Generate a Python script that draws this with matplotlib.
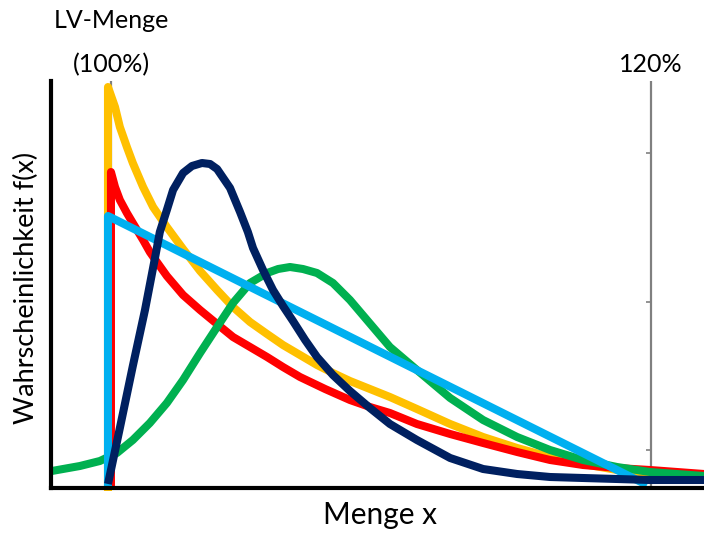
import matplotlib.pyplot as plt

# x: Menge in % der LV-Menge, y: Wahrscheinlichkeit f(x) (beliebige Einheit)
yellow_x = [99.89, 99.89, 100.15, 100.33, 100.59, 100.81, 101.19, 101.56, 102.07, 102.67, 103.30,
            103.93, 104.52, 105.15, 105.78, 106.37, 107.00, 107.63, 108.22, 108.85, 109.59, 110.33,
            111.33, 112.56, 113.78, 115.04, 116.26, 117.48, 118.74, 119.96, 121.96]
yellow_y = [-0.03, 4.01, 3.81, 3.61, 3.41, 3.25, 3.01, 2.81, 2.61, 2.39, 2.17,
            1.98, 1.81, 1.66, 1.54, 1.43, 1.33, 1.23, 1.15, 1.07, 0.99, 0.91,
            0.79, 0.64, 0.51, 0.40, 0.31, 0.24, 0.18, 0.15, 0.11]

red_x = [100.0, 100.0, 100.15, 100.33, 100.59, 100.81, 101.19, 101.44, 101.70, 102.07, 102.67,
         103.30, 103.93, 104.52, 105.15, 105.78, 106.37, 107.00, 107.93, 108.85, 109.59, 110.33,
         111.33, 112.56, 113.78, 115.04, 116.26, 117.48, 118.74, 119.96, 121.96]
red_y = [0.0, 3.16, 3.01, 2.88, 2.75, 2.65, 2.48, 2.36, 2.26, 2.12, 1.93,
         1.78, 1.64, 1.51, 1.41, 1.31, 1.21, 1.11, 0.99, 0.88, 0.81, 0.75,
         0.64, 0.54, 0.45, 0.36, 0.28, 0.23, 0.20, 0.18, 0.14]

green_x = [97.81, 98.85, 99.59, 100.22, 100.81, 101.44, 102.07, 102.67, 103.30, 103.93, 104.52,
           105.15, 105.78, 106.19, 106.63, 107.11, 107.63, 108.22, 108.85, 109.70, 110.33, 111.33,
           112.56, 113.78, 115.04, 116.26, 117.48, 118.74, 119.96, 121.96]
green_y = [0.17, 0.22, 0.27, 0.35, 0.48, 0.65, 0.85, 1.08, 1.35, 1.61, 1.85,
           2.05, 2.15, 2.19, 2.21, 2.19, 2.15, 2.05, 1.88, 1.61, 1.41, 1.18,
           0.90, 0.68, 0.51, 0.38, 0.28, 0.21, 0.16, 0.12]

blue_x = [99.89, 99.89, 119.85]
blue_y = [0.02, 2.72, 0.03]

navy_x = [99.89, 100.33, 100.81, 101.26, 101.63, 101.81, 102.07, 102.30, 102.67, 103.00, 103.37,
          103.67, 103.93, 104.41, 104.78, 105.07, 105.26, 105.63, 106.00, 106.37, 106.74, 107.19,
          107.63, 108.22, 108.85, 109.59, 110.33, 111.33, 112.56, 113.78, 115.04, 116.26, 117.48,
          118.74, 119.96, 121.96]
navy_y = [0.04, 0.60, 1.22, 1.78, 2.30, 2.56, 2.78, 2.98, 3.15, 3.22, 3.25,
          3.24, 3.19, 3.00, 2.76, 2.56, 2.40, 2.18, 1.98, 1.82, 1.67, 1.48,
          1.31, 1.13, 0.97, 0.80, 0.64, 0.48, 0.30, 0.19, 0.14, 0.11, 0.10,
          0.09, 0.08, 0.08]

ref_lines = [100, 120]
ref_labels = ["(100%)", "120%"]
ref_ticks = [0.38, 1.86, 3.35]

plt.rcParams['font.family'] = ['Lato', 'DejaVu Sans']

fig = plt.figure(figsize=(7.04, 5.34), dpi=100)
ax = fig.add_axes([51 / 704, 46 / 534, 653 / 704, 407 / 534])
ax.set_xlim(97.78, 121.96)
ax.set_ylim(0, 4.07)

for xv in ref_lines:
    ax.axvline(xv, color='#808080', lw=1.6, zorder=1)
ax.hlines(ref_ticks, 120 - 0.2, 120, color='#808080', lw=1.2, zorder=1)

lw = 5.8
style = dict(lw=lw, solid_joinstyle='round', solid_capstyle='butt')
ax.plot(yellow_x, yellow_y, color='#FFC000', zorder=2, clip_on=False, **style)
ax.plot(red_x, red_y, color='#FF0000', zorder=3, **style)
ax.plot(green_x, green_y, color='#00B050', zorder=4, **style)
ax.plot(blue_x, blue_y, color='#00B0F0', zorder=5, **style)
ax.plot(navy_x, navy_y, color='#002060', zorder=6, **style)

for s in ['top', 'right']:
    ax.spines[s].set_visible(False)
for s in ['left', 'bottom']:
    ax.spines[s].set_linewidth(3)
    ax.spines[s].set_color('black')
    ax.spines[s].set_zorder(7)
ax.set_xticks([])
ax.set_yticks([])

for xv, lab in zip(ref_lines, ref_labels):
    ax.text(xv, 4.23, lab, ha='center', va='center', fontsize=18, clip_on=False)
ax.text(100, 4.68, "LV-Menge", ha='center', va='center', fontsize=18, clip_on=False)

fig.text(380 / 704, 1 - 515 / 534, "Menge x", ha='center', va='center', fontsize=21.5)
fig.text(26 / 704, 1 - 288 / 534, "Wahrscheinlichkeit f(x)", ha='center', va='center',
         rotation=90, fontsize=19.5)

fig.savefig("out.png", dpi=100)
